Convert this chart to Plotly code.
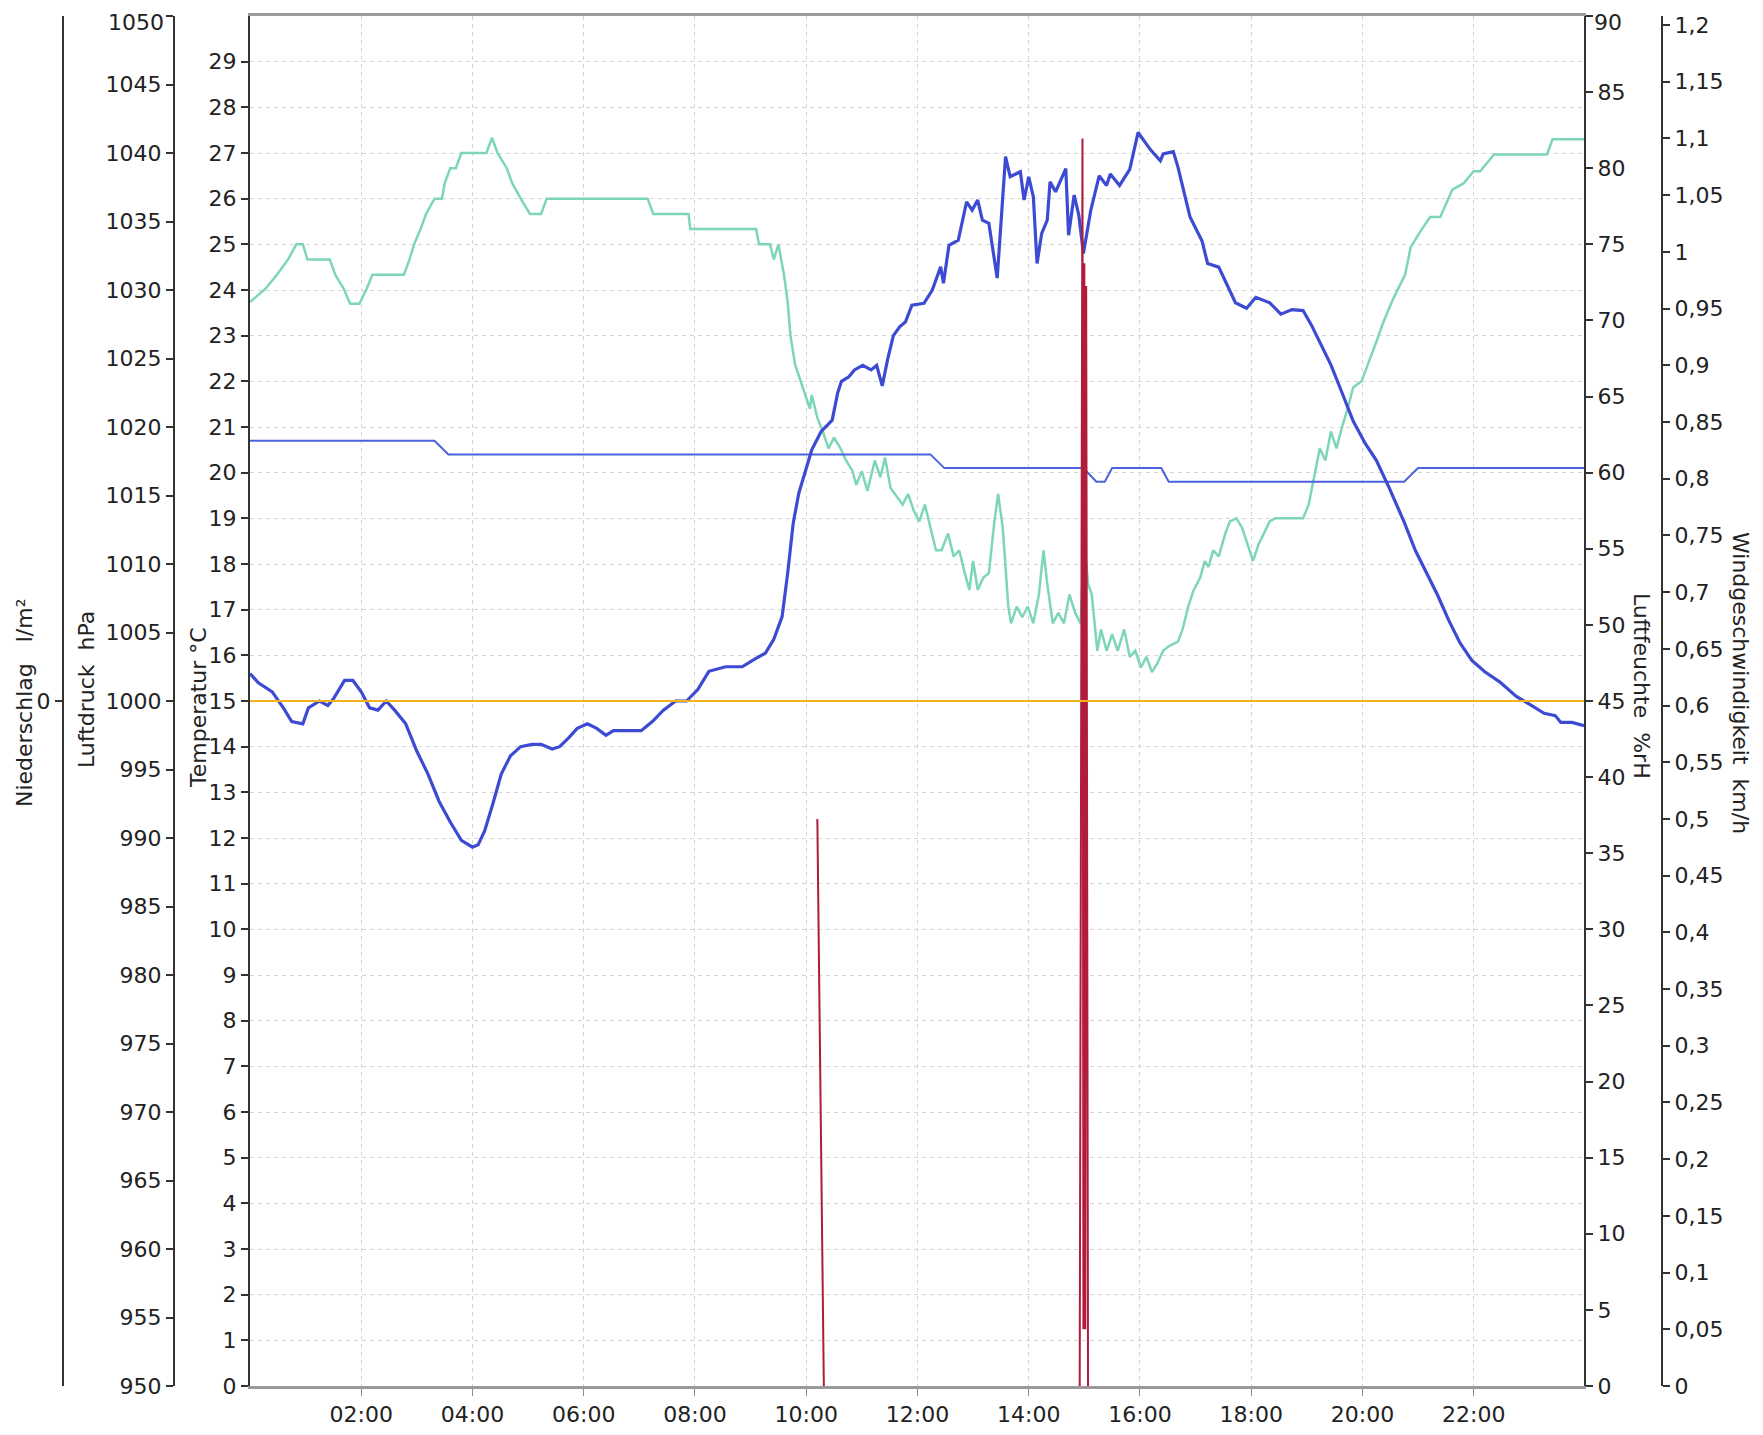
import plotly.graph_objects as go

DAY = "2024-06-01 "

# ---------------- data ----------------
temp_time = ["00:00", "00:09", "00:24", "00:36", "00:45", "00:57", "01:03", "01:15", "01:24", "01:30",
             "01:42", "01:51", "02:00", "02:09", "02:18", "02:27", "02:36", "02:48", "03:00", "03:12",
             "03:24", "03:36", "03:48", "04:00", "04:06", "04:13", "04:22", "04:31", "04:41", "04:52",
             "05:04", "05:14", "05:26", "05:34", "05:44", "05:53", "06:04", "06:14", "06:24", "06:32",
             "06:44", "07:02", "07:14", "07:26", "07:39", "07:51", "08:03", "08:15", "08:33", "08:51",
             "09:03", "09:16", "09:25", "09:34", "09:40", "09:46", "09:52", "09:59", "10:06", "10:16",
             "10:28", "10:34", "10:38", "10:46", "10:52", "11:01", "11:10", "11:16", "11:22", "11:28",
             "11:34", "11:41", "11:47", "11:54", "12:07", "12:16", "12:25", "12:28", "12:34", "12:44",
             "12:53", "12:59", "13:05", "13:10", "13:17", "13:26", "13:35", "13:40", "13:51", "13:55",
             "14:00", "14:05", "14:09", "14:14", "14:20", "14:23", "14:29", "14:40", "14:43", "14:49",
             "14:54", "14:59", "15:07", "15:16", "15:24", "15:28", "15:38", "15:49", "15:58", "16:11",
             "16:22", "16:25", "16:36", "16:41", "16:47", "16:54", "17:07", "17:13", "17:25", "17:34",
             "17:43", "17:55", "18:05", "18:20", "18:32", "18:44", "18:56", "19:05", "19:14", "19:26",
             "19:38", "19:50", "20:03", "20:15", "20:29", "20:45", "20:57", "21:09", "21:21", "21:33",
             "21:45", "21:58", "22:12", "22:28", "22:46", "23:00", "23:16", "23:28", "23:34", "23:46",
             "23:59"]
temp_c = [15.6, 15.4, 15.2, 14.85, 14.55, 14.5, 14.85, 15.0, 14.9, 15.05,
          15.45, 15.45, 15.2, 14.85, 14.8, 15.0, 14.8, 14.5, 13.9, 13.4,
          12.8, 12.35, 11.95, 11.8, 11.85, 12.15, 12.75, 13.4, 13.8, 14.0,
          14.05, 14.05, 13.95, 14.0, 14.2, 14.4, 14.5, 14.4, 14.25, 14.35,
          14.35, 14.35, 14.55, 14.8, 15.0, 15.0, 15.25, 15.65, 15.75, 15.75,
          15.9, 16.05, 16.35, 16.85, 17.8, 18.9, 19.55, 20.0, 20.5, 20.9,
          21.15, 21.75, 22.0, 22.1, 22.25, 22.35, 22.25, 22.35, 21.9, 22.5,
          23.0, 23.2, 23.3, 23.67, 23.71, 24.0, 24.51, 24.15, 24.98, 25.09,
          25.93, 25.75, 25.97, 25.53, 25.46, 24.26, 26.92, 26.48, 26.59, 25.97,
          26.48, 26.04, 24.58, 25.24, 25.53, 26.37, 26.15, 26.66, 25.2, 26.08,
          25.64, 24.8, 25.75, 26.5, 26.29, 26.54, 26.29, 26.64, 27.45, 27.08,
          26.83, 26.98, 27.03, 26.69, 26.19, 25.6, 25.07, 24.58, 24.5, 24.09,
          23.72, 23.6, 23.84, 23.72, 23.47, 23.57, 23.55, 23.23, 22.86, 22.36,
          21.75, 21.13, 20.64, 20.27, 19.66, 18.92, 18.3, 17.81, 17.32, 16.77,
          16.28, 15.89, 15.64, 15.42, 15.1, 14.93, 14.73, 14.68, 14.53, 14.53,
          14.46]

hum_time = ["00:00", "00:17", "00:29", "00:41", "00:50", "00:57", "01:02", "01:26", "01:32", "01:41",
            "01:48", "01:58", "02:06", "02:12", "02:46", "02:52", "02:57", "03:04", "03:10", "03:19",
            "03:27", "03:30", "03:36", "03:42", "03:48", "04:15", "04:21", "04:27", "04:37", "04:43",
            "04:52", "05:02", "05:14", "05:20", "07:09", "07:15", "07:53", "07:55", "09:06", "09:09",
            "09:21", "09:25", "09:30", "09:36", "09:40", "09:43", "09:48", "09:54", "09:59", "10:04",
            "10:06", "10:12", "10:18", "10:24", "10:30", "10:37", "10:43", "10:50", "10:54", "11:00",
            "11:06", "11:14", "11:20", "11:25", "11:31", "11:36", "11:44", "11:50", "11:56", "12:02",
            "12:08", "12:14", "12:20", "12:26", "12:33", "12:39", "12:45", "12:51", "12:56", "13:00",
            "13:05", "13:11", "13:17", "13:23", "13:27", "13:32", "13:38", "13:41", "13:47", "13:53",
            "13:59", "14:05", "14:11", "14:16", "14:20", "14:26", "14:32", "14:38", "14:44", "14:50",
            "14:56", "15:00", "15:04", "15:08", "15:14", "15:18", "15:24", "15:30", "15:36", "15:43",
            "15:49", "15:55", "16:01", "16:07", "16:13", "16:19", "16:25", "16:31", "16:41", "16:46",
            "16:52", "16:58", "17:05", "17:10", "17:14", "17:19", "17:25", "17:32", "17:37", "17:44",
            "17:50", "17:56", "18:02", "18:08", "18:14", "18:20", "18:26", "18:56", "19:02", "19:08",
            "19:14", "19:20", "19:26", "19:32", "19:38", "19:44", "19:50", "19:59", "20:06", "20:15",
            "20:22", "20:33", "20:46", "20:52", "21:02", "21:13", "21:24", "21:37", "21:49", "22:00",
            "22:07", "22:22", "23:19", "23:25", "23:59"]
hum_pct = [71.2, 72.1, 73.0, 74.0, 75.0, 75.0, 74.0, 74.0, 73.0, 72.1,
           71.1, 71.1, 72.1, 73.0, 73.0, 74.0, 75.0, 76.0, 77.0, 78.0,
           78.0, 79.0, 80.0, 80.0, 81.0, 81.0, 82.0, 81.0, 80.0, 79.0,
           78.0, 77.0, 77.0, 78.0, 78.0, 77.0, 77.0, 76.0, 76.0, 75.0,
           75.0, 74.0, 75.0, 73.0, 71.2, 69.0, 67.1, 66.0, 65.1, 64.2,
           65.1, 63.6, 62.7, 61.6, 62.3, 61.6, 60.8, 60.1, 59.2, 60.1,
           58.8, 60.8, 59.7, 61.0, 59.0, 58.6, 57.9, 58.6, 57.5, 56.8,
           57.9, 56.4, 54.9, 54.9, 56.0, 54.5, 54.9, 53.4, 52.3, 54.2,
           52.3, 53.1, 53.4, 56.8, 58.6, 56.4, 51.2, 50.1, 51.2, 50.5,
           51.2, 50.1, 52.0, 54.9, 52.7, 50.1, 50.8, 50.1, 52.0, 50.8,
           50.1, 55.6, 52.7, 52.0, 48.3, 49.7, 48.3, 49.4, 48.3, 49.7,
           47.9, 48.3, 47.2, 47.9, 46.9, 47.5, 48.3, 48.6, 48.9, 49.7,
           51.2, 52.3, 53.1, 54.2, 53.8, 54.9, 54.5, 56.0, 56.8, 57.0,
           56.4, 55.3, 54.2, 55.3, 56.0, 56.8, 57.0, 57.0, 57.9, 59.7,
           61.6, 60.8, 62.7, 61.6, 63.0, 64.2, 65.6, 66.0, 67.1, 68.6,
           69.8, 71.4, 73.0, 74.8, 75.8, 76.8, 76.8, 78.6, 79.0, 79.8,
           79.8, 80.9, 80.9, 81.9, 81.9]

press_time = ["00:00", "03:19", "03:34", "12:14", "12:29", "14:59", "15:13", "15:22", "15:30",
              "16:23", "16:31", "20:45", "21:00", "23:59"]
press_hpa = [1019, 1019, 1018, 1018, 1017, 1017, 1016, 1016, 1017,
             1017, 1016, 1016, 1017, 1017]

# wind is 0 all day except for the two gusts (None = gap, the zero line sits under the x axis)
wind_time = [None, "10:12", "10:19", None,
             "14:55", "14:58", "14:59", "15:00", "15:01", "15:02", "15:04"]
wind_kmh = [None, 0.5, 0, None,
            0, 1.1, 0.05, 0.99, 0.05, 0.97, 0]

rain_time = ["00:00", "23:59"]
rain_lm2 = [0, 0]

x_tick_labels = ["02:00", "04:00", "06:00", "08:00", "10:00", "12:00",
                 "14:00", "16:00", "18:00", "20:00", "22:00"]
temp_ticks = list(range(0, 30))
press_ticks = list(range(950, 1051, 5))
hum_ticks = list(range(0, 91, 5))

# ---------------- layout geometry (screen pixels) ----------------
SW, SH = 1763, 1435          # browser window
OFF = 8                      # default page body margin
W, H = SW - 2 * OFF, SH - 2 * OFF


def fx(v):
    return (v - OFF) / W


def fy(v):
    return 1 - (v - OFF) / H


X0, X1 = 250, 1584
YT, YB = 16, 1386
ydom = [fy(YB), fy(YT)]

FONT = "DejaVu Sans"
FS = 22
TXT = "#222222"


def t(lst):
    return [None if s is None else DAY + s for s in lst]


fig = go.Figure()

fig.add_trace(go.Scatter(x=t(hum_time), y=hum_pct, mode="lines", yaxis="y",
                         line=dict(color="#7dd6b4", width=2.5), name="Luftfeuchte"))
fig.add_trace(go.Scatter(x=t(press_time), y=press_hpa, mode="lines", yaxis="y2",
                         line=dict(color="#4a62dc", width=2), name="Luftdruck"))
fig.add_trace(go.Scatter(x=t(temp_time), y=temp_c, mode="lines", yaxis="y3",
                         line=dict(color="#3d4bd2", width=3.2), name="Temperatur"))
fig.add_trace(go.Scatter(x=t(wind_time), y=wind_kmh, mode="lines", yaxis="y4",
                         connectgaps=False,
                         line=dict(color="#b01c3a", width=2), name="Wind"))
fig.add_trace(go.Scatter(x=t(rain_time), y=rain_lm2, mode="lines", yaxis="y5",
                         line=dict(color="#f2b21c", width=2), name="Niederschlag"))

common_y = dict(showline=True, linecolor="#333333", linewidth=2, ticks="outside",
                ticklen=7, tickwidth=1.5, tickcolor="#333333", zeroline=False,
                showgrid=False, domain=ydom, automargin=False, ticklabeloverflow="allow",
                tickfont=dict(family=FONT, size=FS, color=TXT))

# the top labels (1050 / 90) sit just below their tick, as in the reference
press_text = [str(v) if v != press_ticks[-1] else "" for v in press_ticks]
hum_text = [str(v) if v != hum_ticks[-1] else "" for v in hum_ticks]

fig.update_layout(
    width=W, height=H,
    autosize=False,
    margin=dict(l=0, r=0, t=0, b=0, pad=0),
    paper_bgcolor="white", plot_bgcolor="white",
    showlegend=False,
    separators=",.",
    font=dict(family=FONT, size=FS, color=TXT),
    xaxis=dict(type="date", domain=[fx(X0), fx(X1)],
               range=[DAY + "00:00", DAY + "23:59"],
               tickvals=t(x_tick_labels), ticktext=x_tick_labels,
               ticks="outside", ticklen=7, tickcolor="#888888", automargin=False,
               ticklabeloverflow="allow",
               showgrid=True, gridcolor="#d6d6d6", gridwidth=1, griddash="4px,4px",
               showline=True, linecolor="#9a9a9a", linewidth=2.5, mirror=True,
               zeroline=False, tickfont=dict(family=FONT, size=FS, color=TXT)),
    yaxis=dict(range=[0, 90], tickvals=hum_ticks, ticktext=hum_text,
               side="right", anchor="x", **common_y),
    yaxis2=dict(range=[950, 1050], tickvals=press_ticks, ticktext=press_text,
                side="left", overlaying="y", anchor="free", position=fx(174), **common_y),
    yaxis3=dict(range=[0, 30], tickvals=temp_ticks, side="left", overlaying="y",
                anchor="x", **{**common_y, "showgrid": True, "gridcolor": "#d6d6d6",
                               "gridwidth": 1, "griddash": "4px,4px"}),
    yaxis4=dict(range=[0, 1.208], dtick=0.05, side="right", overlaying="y",
                anchor="free", position=fx(1662), **common_y),
    yaxis5=dict(range=[-1, 1], tickvals=[0], side="left", overlaying="y",
                anchor="free", position=fx(63), **common_y),
)

# top tick labels as annotations (kept inside the page)
fig.add_annotation(text=str(press_ticks[-1]), x=fx(165), y=fy(9), xref="paper", yref="paper",
                   xanchor="right", yanchor="top", showarrow=False, borderpad=0,
                   font=dict(family=FONT, size=FS, color=TXT))
fig.add_annotation(text=str(hum_ticks[-1]), x=fx(1593), y=fy(9), xref="paper", yref="paper",
                   xanchor="left", yanchor="top", showarrow=False, borderpad=0,
                   font=dict(family=FONT, size=FS, color=TXT))

titles = [
    ("Niederschlag\u00a0\u00a0\u00a0l/m²", 25, 703, -90),
    ("Luftdruck\u00a0\u00a0hPa", 86, 690, -90),
    ("Temperatur\u00a0°C", 198, 708, -90),
    ("Luftfeuchte\u00a0\u00a0%rH", 1642, 686, 90),
    ("Windgeschwindigkeit\u00a0\u00a0km/h", 1741, 683, 90),
]
for text, ax, ay, ang in titles:
    fig.add_annotation(text=text, x=fx(ax), y=fy(ay), xref="paper", yref="paper",
                       xanchor="center", yanchor="middle", showarrow=False, textangle=ang,
                       font=dict(family=FONT, size=FS, color=TXT))

fig.write_html("out.html")
